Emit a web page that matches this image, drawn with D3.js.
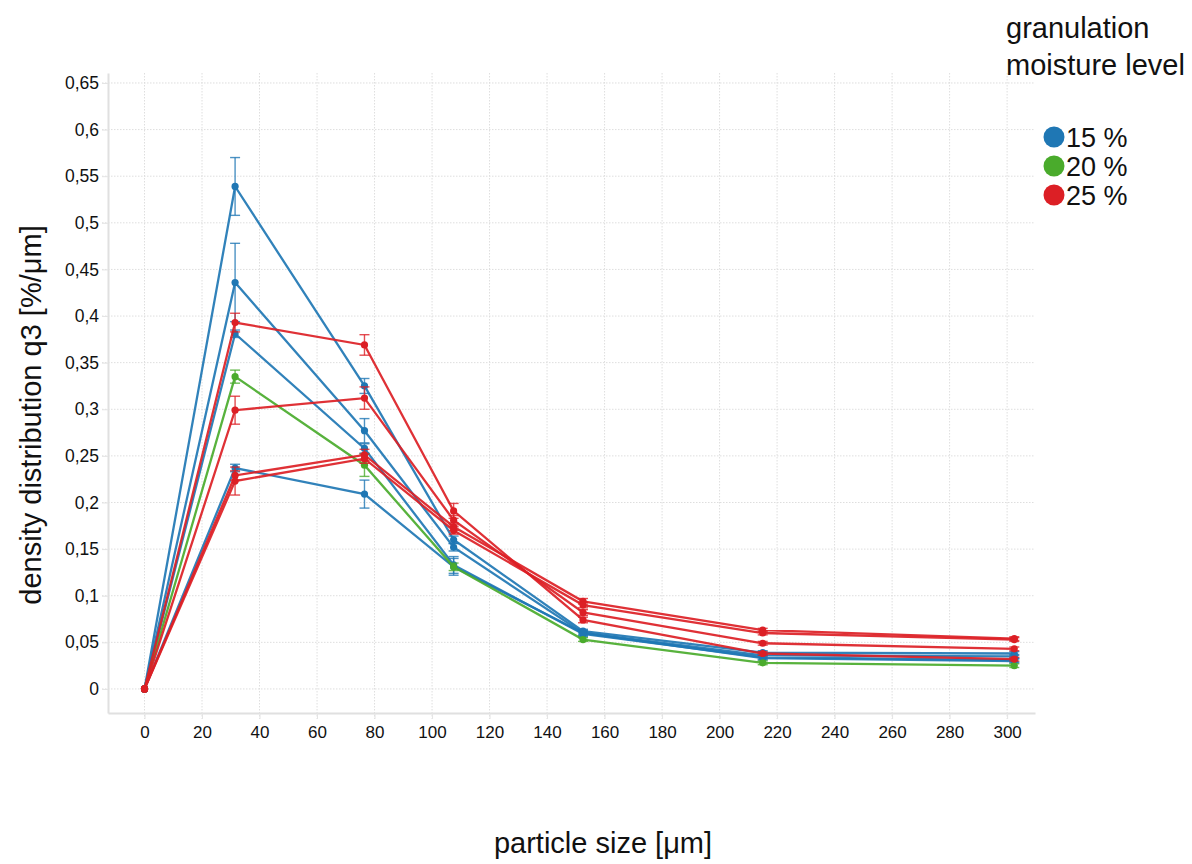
<!DOCTYPE html>
<html>
<head>
<meta charset="utf-8">
<script src="https://cdn.jsdelivr.net/npm/d3@7"></script>
<style>
  html, body { margin: 0; padding: 0; background: #fff; }
  svg { display: block; font-family: "Liberation Sans", Arial, sans-serif; }
</style>
</head>
<body>
<svg id="chart" width="1192" height="864"></svg>
<script>
// Particle size class midpoints [µm]
const sizes = [0, 31.5, 76.5, 107.5, 152.5, 215, 302.5];

// Moisture levels shown in the legend
const levels = ["15 %", "20 %", "25 %"];

// Density distribution q3 [%/µm] per granulation run, with standard deviations
const m15_a = [0, 0.539, 0.325, 0.160, 0.062, 0.039, 0.038];
const m15_a_sd = [0, 0.031, 0.008, 0.004, 0.002, 0.002, 0.002];
const m15_b = [0, 0.436, 0.277, 0.152, 0.060, 0.036, 0.035];
const m15_b_sd = [0, 0.042, 0.013, 0.004, 0.002, 0.002, 0.002];
const m15_c = [0, 0.381, 0.258, 0.133, 0.059, 0.034, 0.031];
const m15_c_sd = [0, 0.004, 0.005, 0.009, 0.003, 0.002, 0.002];
const m15_d = [0, 0.237, 0.209, 0.131, 0.060, 0.033, 0.030];
const m15_d_sd = [0, 0.004, 0.015, 0.009, 0.003, 0.002, 0.002];

const m20_a = [0, 0.335, 0.240, 0.131, 0.053, 0.028, 0.025];
const m20_a_sd = [0, 0.007, 0.012, 0.004, 0.002, 0.002, 0.002];

const m25_a = [0, 0.393, 0.369, 0.191, 0.074, 0.038, 0.032];
const m25_a_sd = [0, 0.010, 0.011, 0.008, 0.003, 0.002, 0.002];
const m25_b = [0, 0.299, 0.312, 0.181, 0.082, 0.049, 0.043];
const m25_b_sd = [0, 0.015, 0.012, 0.005, 0.003, 0.002, 0.002];
const m25_c = [0, 0.229, 0.251, 0.174, 0.094, 0.063, 0.054];
const m25_c_sd = [0, 0.005, 0.006, 0.004, 0.003, 0.002, 0.002];
const m25_d = [0, 0.223, 0.247, 0.170, 0.090, 0.060, 0.053];
const m25_d_sd = [0, 0.015, 0.005, 0.004, 0.003, 0.002, 0.002];

// Axis ticks
const xTicks = d3.range(0, 301, 20);
const yTicks = d3.range(0, 14).map(i => +(i * 0.05).toFixed(2));

const runs = [
  { level: 0, v: m15_a, sd: m15_a_sd },
  { level: 0, v: m15_b, sd: m15_b_sd },
  { level: 0, v: m15_c, sd: m15_c_sd },
  { level: 0, v: m15_d, sd: m15_d_sd },
  { level: 1, v: m20_a, sd: m20_a_sd },
  { level: 2, v: m25_a, sd: m25_a_sd },
  { level: 2, v: m25_b, sd: m25_b_sd },
  { level: 2, v: m25_c, sd: m25_c_sd },
  { level: 2, v: m25_d, sd: m25_d_sd }
];

const colors = ["#1f77b4", "#4aab2c", "#dc1f25"];

const svg = d3.select("#chart");
const plot = { left: 108, right: 1035, top: 73, bottom: 713 };

const x = d3.scaleLinear().domain([-12.7, 309.7]).range([plot.left, plot.right]);
const y = d3.scaleLinear().domain([-0.0258, 0.6607]).range([plot.bottom, plot.top]);

const locale = d3.formatLocale({ decimal: ",", thousands: ".", grouping: [3], currency: ["", ""] });
const fmtY = v => locale.format("~r")(v);

// Grid
const grid = svg.append("g");
grid.selectAll("line.vx").data(xTicks).join("line")
  .attr("x1", d => x(d)).attr("x2", d => x(d))
  .attr("y1", plot.top).attr("y2", plot.bottom + 6)
  .attr("stroke", "#dedede").attr("stroke-width", 1).attr("stroke-dasharray", "1.5,1.5");
grid.selectAll("line.hy").data(yTicks).join("line")
  .attr("x1", plot.left - 6).attr("x2", plot.right)
  .attr("y1", d => y(d)).attr("y2", d => y(d))
  .attr("stroke", "#dedede").attr("stroke-width", 1).attr("stroke-dasharray", "1.5,1.5");

// Axes
const xAxis = svg.append("g").attr("transform", `translate(0,${plot.bottom})`)
  .call(d3.axisBottom(x).tickValues(xTicks).tickSize(6).tickSizeOuter(0).tickPadding(7));
const yAxis = svg.append("g").attr("transform", `translate(${plot.left},0)`)
  .call(d3.axisLeft(y).tickValues(yTicks).tickFormat(fmtY).tickSize(6).tickSizeOuter(0).tickPadding(3));
[xAxis, yAxis].forEach(a => {
  a.select(".domain").attr("stroke", "#e0e0e0").attr("stroke-width", 2);
  a.selectAll(".tick line").attr("stroke", "#e4e4e4");
  a.selectAll(".tick text").attr("fill", "#111")
    .attr("font-family", "'Liberation Sans', Arial, sans-serif");
});
xAxis.selectAll(".tick text").attr("font-size", 17);
yAxis.selectAll(".tick text").attr("font-size", 17.5);

// Series
const line = d3.line().x((d, i) => x(sizes[i])).y(d => y(d));
const series = svg.append("g");
runs.forEach(r => {
  const c = colors[r.level];
  const g = series.append("g");
  g.append("path").datum(r.v).attr("d", line)
    .attr("fill", "none").attr("stroke", c).attr("stroke-width", 2.3).attr("stroke-opacity", 0.92);
  const pts = r.v.map((v, i) => ({ x: sizes[i], v, sd: r.sd[i] }));
  const eb = g.selectAll("g.eb").data(pts.filter(p => p.sd > 0)).join("g")
    .attr("stroke", c).attr("stroke-width", 1.4).attr("stroke-opacity", 0.8);
  eb.append("line").attr("x1", p => x(p.x)).attr("x2", p => x(p.x))
    .attr("y1", p => y(p.v - p.sd)).attr("y2", p => y(p.v + p.sd));
  eb.append("line").attr("x1", p => x(p.x) - 5).attr("x2", p => x(p.x) + 5)
    .attr("y1", p => y(p.v + p.sd)).attr("y2", p => y(p.v + p.sd));
  eb.append("line").attr("x1", p => x(p.x) - 5).attr("x2", p => x(p.x) + 5)
    .attr("y1", p => y(p.v - p.sd)).attr("y2", p => y(p.v - p.sd));
  g.selectAll("circle").data(pts).join("circle")
    .attr("cx", p => x(p.x)).attr("cy", p => y(p.v)).attr("r", 3.6).attr("fill", c);
});

// Axis titles
svg.append("text").attr("x", 603).attr("y", 853).attr("text-anchor", "middle")
  .attr("font-size", 29).attr("fill", "#111").text("particle size [μm]");
svg.append("text").attr("transform", "translate(41,415) rotate(-90)").attr("text-anchor", "middle")
  .attr("font-size", 29).attr("fill", "#111").text("density distribution q3 [%/μm]");

// Legend
const legend = svg.append("g");
legend.append("text").attr("x", 1006).attr("y", 38).attr("font-size", 29).attr("fill", "#111").text("granulation");
legend.append("text").attr("x", 1006).attr("y", 75).attr("font-size", 29).attr("fill", "#111").text("moisture level");
const items = legend.selectAll("g.item").data(levels).join("g")
  .attr("transform", (d, i) => `translate(0,${137 + i * 29})`);
items.append("circle").attr("cx", 1054).attr("cy", 0).attr("r", 10.5).attr("fill", (d, i) => colors[i]);
items.append("text").attr("x", 1066).attr("y", 9.5).attr("font-size", 27).attr("fill", "#111").text(d => d);
</script>
</body>
</html>
